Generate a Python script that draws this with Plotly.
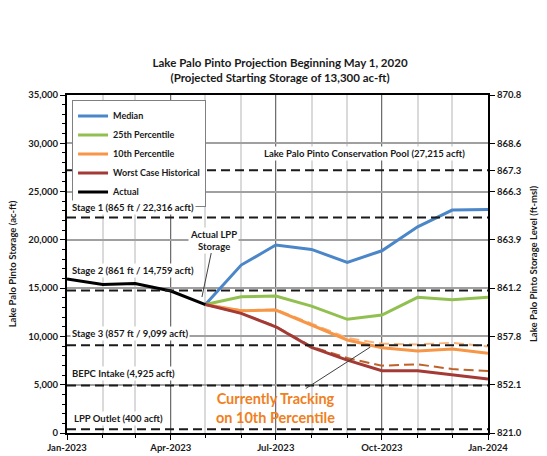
import plotly.graph_objects as go

FONT = "Lato"

months_actual = ["2023-01-01", "2023-02-01", "2023-03-01", "2023-04-01", "2023-05-01"]
actual = [15950, 15390, 15490, 14700, 13300]

months_proj = ["2023-05-01", "2023-06-01", "2023-07-01", "2023-08-01", "2023-09-01",
               "2023-10-01", "2023-11-01", "2023-12-01", "2024-01-01"]
median = [13300, 17390, 19460, 19010, 17670, 18870, 21350, 23080, 23150]
p25 = [13300, 14110, 14180, 13140, 11770, 12210, 14050, 13800, 14050]
p10 = [13300, 12660, 12730, 11180, 9630, 8830, 8490, 8690, 8250]
worst = [13300, 12390, 11000, 8870, 7550, 6450, 6450, 6000, 5590]
p10_prev = [13300, 12700, 12800, 11350, 9850, 9250, 9170, 9350, 8950]
worst_prev = [13300, 12400, 11050, 8950, 7760, 6970, 7110, 6620, 6420]

ref_values = [27215, 22316, 14759, 9099, 4925, 400]
ref_labels = ["Lake Palo Pinto Conservation Pool (27,215 acft)",
              "Stage 1 (865 ft / 22,316 acft)",
              "Stage 2 (861 ft / 14,759 acft)",
              "Stage 3 (857 ft / 9,099 acft)",
              "BEPC Intake (4,925 acft)",
              "LPP Outlet (400 acft)"]

right_vals = [0, 5000, 10000, 15000, 20000, 25000, 27215, 30000, 35000]
right_text = ["821.0", "852.1", "857.8", "861.2", "863.9", "866.3", "867.3", "868.6", "870.8"]

x_ticks = ["2023-01-01", "2023-04-01", "2023-07-01", "2023-10-01", "2024-01-01"]

fig = go.Figure()

# reference dashed lines
for v in ref_values:
    fig.add_shape(type="line", xref="paper", x0=0, x1=1, yref="y", y0=v, y1=v,
                  line=dict(color="#1a1a1a", width=2, dash="9px,5px"), layer="above")

fig.add_trace(go.Scatter(x=months_proj, y=p10_prev, mode="lines", showlegend=False,
                         line=dict(color="#F9B27A", width=2, dash="10px,5px"), hoverinfo="skip"))
fig.add_trace(go.Scatter(x=months_proj, y=worst_prev, mode="lines", showlegend=False,
                         line=dict(color="#BD6229", width=2, dash="10px,5px"), hoverinfo="skip"))

fig.add_trace(go.Scatter(x=months_proj, y=median, mode="lines", name="Median",
                         line=dict(color="#4A86C8", width=3)))
fig.add_trace(go.Scatter(x=months_proj, y=p25, mode="lines", name="25th Percentile",
                         line=dict(color="#92C050", width=3)))
fig.add_trace(go.Scatter(x=months_proj, y=p10, mode="lines", name="10th Percentile",
                         line=dict(color="#F79646", width=3)))
fig.add_trace(go.Scatter(x=months_proj, y=worst, mode="lines", name="Worst Case Historical",
                         line=dict(color="#A33A35", width=3)))
fig.add_trace(go.Scatter(x=months_actual, y=actual, mode="lines", name="Actual",
                         line=dict(color="#000000", width=3)))
fig.add_trace(go.Scatter(x=months_actual, y=actual, yaxis="y2", mode="lines", showlegend=False,
                         line=dict(color="rgba(0,0,0,0)", width=0), hoverinfo="skip"))

# reference labels
label_pos = [("2023-09-16", 28900, "center"), ("2023-01-04", 23390, "left"),
             ("2023-01-04", 16870, "left"), ("2023-01-04", 10350, "left"),
             ("2023-01-04", 6210, "left"), ("2023-01-05", 1550, "left")]
for (lx, ly, anc), txt in zip(label_pos, ref_labels):
    fig.add_annotation(x=lx, y=ly, text=txt, showarrow=False, xanchor=anc, yanchor="middle",
                       bgcolor="white", font=dict(family=FONT, size=9.5, color="#1a1a1a", weight="bold"))

fig.add_annotation(x="2023-04-28", y=14080, text="Actual LPP<br>Storage", showarrow=True,
                   arrowhead=0, arrowwidth=1, arrowcolor="#404040", ax=12, ay=-57,
                   bgcolor="white", font=dict(family=FONT, size=9.5, color="#1a1a1a", weight="bold"))
fig.add_annotation(x="2023-09-21", y=8900, text="Currently Tracking<br>on 10th Percentile",
                   showarrow=True, arrowhead=0, arrowwidth=1, arrowcolor="#404040", ax=-95, ay=61,
                   font=dict(family=FONT, size=14.5, color="#F07F22", weight="bold"))

fig.update_layout(
    width=547, height=456,
    margin=dict(l=67, r=59, t=95, b=23, autoexpand=False),
    paper_bgcolor="white", plot_bgcolor="white",
    font=dict(family=FONT, size=9.5, color="#1a1a1a", weight="bold"),
    title=dict(text="Lake Palo Pinto Projection Beginning May 1, 2020<br>(Projected Starting Storage of 13,300 ac-ft)",
               x=0.512, xanchor="center", y=0.854, yanchor="middle", yref="container",
               font=dict(family=FONT, size=11.5, color="#1a1a1a", weight="bold")),
    showlegend=True,
    legend=dict(x=0.012, y=0.984, xanchor="left", yanchor="top", bgcolor="white",
                bordercolor="#808080", borderwidth=1, itemwidth=30,
                font=dict(family=FONT, size=9, color="#1a1a1a", weight="bold"), tracegroupgap=0),
    xaxis=dict(type="date", range=["2023-01-01", "2024-01-01"], tickvals=x_ticks,
               tickformat="%b-%Y", showgrid=True, gridcolor="#6E6E6E", gridwidth=1,
               showline=True, linecolor="black", linewidth=2, mirror=True,
               ticks="outside", ticklen=5, tickcolor="black", automargin=False,
               minor=dict(dtick="M1", tick0="2023-01-01", showgrid=True, gridcolor="#DADADA",
                          gridwidth=2, ticks="outside", ticklen=3, tickcolor="black"),
               zeroline=False),
    yaxis=dict(range=[0, 35000], dtick=5000, tickformat=",d", showgrid=True,
               gridcolor="#A0A0A0", gridwidth=1.5, showline=True, linecolor="black",
               linewidth=2, mirror=True, ticks="outside", ticklen=5, tickcolor="black",
               minor=dict(dtick=1000, ticks="outside", ticklen=3, tickcolor="black", showgrid=False),
               zeroline=False, automargin=False,
               title=dict(text="Lake Palo Pinto Storage (ac-ft)", standoff=10,
                          font=dict(family=FONT, size=9.5, weight="bold"))),
    yaxis2=dict(range=[0, 35000], overlaying="y", side="right", tickvals=right_vals,
                ticktext=right_text, showgrid=False, showline=True, linecolor="black",
                linewidth=2, ticks="outside", ticklen=5, tickcolor="black", zeroline=False,
                automargin=False,
                title=dict(text="Lake Palo Pinto Storage Level (ft-msl)", standoff=10,
                           font=dict(family=FONT, size=9.5, weight="bold"))),
)

fig.write_html("out.html", config={"displayModeBar": False},
               post_script="document.body.style.margin='0px';")
